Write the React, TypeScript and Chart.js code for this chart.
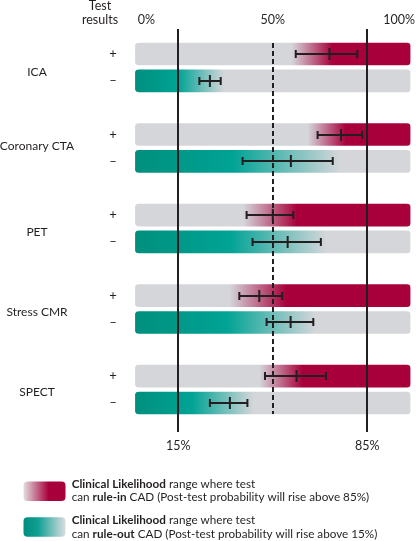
import React, { useEffect, useRef } from "react";
import { Chart, registerables } from "chart.js";

Chart.register(...registerables);

// ---- data ----
const groups = ["ICA", "Coronary CTA", "PET", "Stress CMR", "SPECT"];
const resultSigns = ["+", "–"];
// positive test result: post-test estimate and CI (%)
const posEstimate = [71, 75.3, 50, 45, 58.8];
const posLow = [58.5, 66.6, 40.3, 37.6, 47.1];
const posHigh = [81.3, 83.1, 57.6, 53.5, 69.7];
// negative test result: estimate and CI (%)
const negEstimate = [26.7, 56.7, 55.5, 56.6, 34.1];
const negLow = [22.8, 38.8, 42.5, 47.7, 26.7];
const negHigh = [30.7, 72.2, 67.8, 65, 40.6];
// rule-in gradient (gray -> red) range in clinical likelihood %
const ruleInFrom = [57, 63, 39, 34, 45];
const ruleInTo = [72, 77, 59, 55, 61];
// rule-out gradient (teal -> gray) range in clinical likelihood %
const ruleOutFrom = [15, 35, 34, 33, 20];
const ruleOutTo = [32, 75, 70, 66, 43];
const topTickValues = [0, 50, 100];
const topTickLabels = ["0%", "50%", "100%"];
const thresholdValues = [15, 85];
const thresholdLabels = ["15%", "85%"];
const midValue = 50;
const barRange = [-1, 101];

// ---- layout / style ----
const groupLabelOffset = [0.66, 0.42, 0.62, 0.6, 0.61];
const GRAY = "#d5d6da";
const RED = "#a8003b";
const TEAL_DARK = "#008f7e";
const TEAL = "#00a395";
const INK = "#231f20";
const FONT = "Lato, 'Open Sans', sans-serif";

const rowPos = (g: number, neg: number) => g * 3 + neg;

function makeFill(ctx: any) {
  const chart = ctx.chart;
  if (!chart.chartArea || !chart.scales.x) return GRAY;
  const i = ctx.dataIndex;
  const g = Math.floor(i / 2);
  const neg = i % 2 === 1;
  const xs = chart.scales.x;
  const x0 = xs.getPixelForValue(barRange[0]);
  const x1 = xs.getPixelForValue(barRange[1]);
  const grad = chart.ctx.createLinearGradient(x0, 0, x1, 0);
  const stop = (v: number) =>
    Math.min(1, Math.max(0, (v - barRange[0]) / (barRange[1] - barRange[0])));
  if (!neg) {
    grad.addColorStop(0, GRAY);
    grad.addColorStop(stop(ruleInFrom[g]), GRAY);
    grad.addColorStop(stop(ruleInTo[g]), RED);
    grad.addColorStop(1, RED);
  } else {
    grad.addColorStop(0, TEAL_DARK);
    grad.addColorStop(stop(ruleOutFrom[g]), TEAL);
    grad.addColorStop(stop(ruleOutTo[g]), GRAY);
    grad.addColorStop(1, GRAY);
  }
  return grad;
}

const overlayPlugin = {
  id: "overlay",
  afterDatasetsDraw(chart: any) {
    const { ctx, chartArea } = chart;
    const xs = chart.scales.x;
    const ys = chart.scales.y;
    ctx.save();
    // threshold lines
    ctx.strokeStyle = INK;
    ctx.lineWidth = 2;
    thresholdValues.forEach((v) => {
      const x = Math.round(xs.getPixelForValue(v));
      ctx.beginPath();
      ctx.moveTo(x, chartArea.top);
      ctx.lineTo(x, chartArea.bottom);
      ctx.stroke();
    });
    // dashed 50% line across the bar block
    const half = 11;
    const yTop = ys.getPixelForValue(rowPos(0, 0)) - half;
    const yBot = ys.getPixelForValue(rowPos(groups.length - 1, 1)) + half;
    const xm = Math.round(xs.getPixelForValue(midValue));
    ctx.setLineDash([5, 3]);
    ctx.beginPath();
    ctx.moveTo(xm, yTop);
    ctx.lineTo(xm, yBot);
    ctx.stroke();
    ctx.setLineDash([]);

    // error bars
    const drawErr = (lo: number, est: number, hi: number, yv: number) => {
      const y = Math.round(ys.getPixelForValue(yv));
      const xl = xs.getPixelForValue(lo);
      const xe = xs.getPixelForValue(est);
      const xh = xs.getPixelForValue(hi);
      ctx.beginPath();
      ctx.moveTo(xl, y);
      ctx.lineTo(xh, y);
      ctx.moveTo(xl, y - 4);
      ctx.lineTo(xl, y + 4);
      ctx.moveTo(xh, y - 4);
      ctx.lineTo(xh, y + 4);
      ctx.moveTo(xe, y - 6);
      ctx.lineTo(xe, y + 6);
      ctx.stroke();
    };
    groups.forEach((_, g) => {
      drawErr(posLow[g], posEstimate[g], posHigh[g], rowPos(g, 0));
      drawErr(negLow[g], negEstimate[g], negHigh[g], rowPos(g, 1));
    });

    // texts
    ctx.fillStyle = INK;
    ctx.textBaseline = "middle";
    ctx.font = `12.5px ${FONT}`;
    ctx.textAlign = "center";
    ctx.fillText("Test", 100, 5.5);
    ctx.fillText("results", 100, 19.5);
    topTickLabels.forEach((t, k) => {
      const x = xs.getPixelForValue(topTickValues[k]);
      if (k === 0) {
        ctx.textAlign = "left";
        ctx.fillText(t, x, 19.5);
      } else if (k === topTickLabels.length - 1) {
        ctx.textAlign = "right";
        ctx.fillText(t, chart.width - 1, 19.5);
      } else {
        ctx.textAlign = "center";
        ctx.fillText(t, x, 19.5);
      }
    });
    ctx.textAlign = "center";
    thresholdLabels.forEach((t, k) => {
      ctx.fillText(t, xs.getPixelForValue(thresholdValues[k]), 446);
    });
    groups.forEach((name, g) => {
      ctx.font = `12px ${FONT}`;
      ctx.fillText(name, 37, ys.getPixelForValue(rowPos(g, groupLabelOffset[g])));
      ctx.font = `13px ${FONT}`;
      ctx.fillText(resultSigns[0], 113, ys.getPixelForValue(rowPos(g, 0)));
      ctx.fillText(resultSigns[1], 113, ys.getPixelForValue(rowPos(g, 1)));
    });

    // legend
    const roundRect = (x: number, y: number, w: number, h: number, r: number) => {
      ctx.beginPath();
      ctx.moveTo(x + r, y);
      ctx.lineTo(x + w - r, y);
      ctx.quadraticCurveTo(x + w, y, x + w, y + r);
      ctx.lineTo(x + w, y + h - r);
      ctx.quadraticCurveTo(x + w, y + h, x + w - r, y + h);
      ctx.lineTo(x + r, y + h);
      ctx.quadraticCurveTo(x, y + h, x, y + h - r);
      ctx.lineTo(x, y + r);
      ctx.quadraticCurveTo(x, y, x + r, y);
      ctx.closePath();
    };
    const lx = 23.5, lw = 42, lh = 19.5;
    const g1 = ctx.createLinearGradient(lx, 0, lx + lw, 0);
    g1.addColorStop(0, "#e2dfe0");
    g1.addColorStop(0.6, RED);
    g1.addColorStop(1, RED);
    roundRect(lx, 481.5, lw, lh, 4);
    ctx.fillStyle = g1;
    ctx.fill();
    const g2 = ctx.createLinearGradient(lx, 0, lx + lw, 0);
    g2.addColorStop(0, TEAL_DARK);
    g2.addColorStop(0.35, "#10a093");
    g2.addColorStop(1, "#dcdde0");
    roundRect(lx, 517.3, lw, lh, 4);
    ctx.fillStyle = g2;
    ctx.fill();

    ctx.fillStyle = INK;
    ctx.textAlign = "left";
    const runs = (parts: [string, boolean][], x: number, y: number) => {
      let cx = x;
      parts.forEach(([t, b]) => {
        ctx.font = `${b ? "bold " : ""}11.7px ${FONT}`;
        ctx.fillText(t, cx, y);
        cx += ctx.measureText(t).width;
      });
    };
    const tx = 71.7;
    runs([["Clinical Likelihood", true], [" range where test", false]], tx, 484);
    runs([["can ", false], ["rule-in", true], [" CAD (Post-test probability will rise above 85%)", false]], tx, 497.5);
    runs([["Clinical Likelihood", true], [" range where test", false]], tx, 520.5);
    runs([["can ", false], ["rule-out", true], [" CAD (Post-test probability will rise above 15%)", false]], tx, 534);
    ctx.restore();
  },
};

export default function App() {
  const ref = useRef<HTMLCanvasElement | null>(null);
  useEffect(() => {
    if (!ref.current) return;
    const data: any[] = [];
    groups.forEach((_, g) => {
      data.push({ x: barRange, y: rowPos(g, 0) });
      data.push({ x: barRange, y: rowPos(g, 1) });
    });
    const chart = new Chart(ref.current, {
      type: "bar",
      data: {
        datasets: [
          {
            data,
            backgroundColor: makeFill as any,
            borderSkipped: false,
            borderRadius: 4,
            barThickness: 22,
          } as any,
        ],
      },
      plugins: [overlayPlugin],
      options: {
        indexAxis: "y",
        animation: false,
        responsive: false,
        events: [],
        layout: { padding: { left: 135.1, right: 5.5, top: 29, bottom: 109 } },
        plugins: { legend: { display: false }, tooltip: { enabled: false } },
        scales: {
          x: { type: "linear", min: barRange[0], max: barRange[1], display: false, offset: false },
          y: { type: "linear", min: -0.93, max: 14.08, reverse: true, display: false, offset: false },
        },
      } as any,
    });
    return () => chart.destroy();
  }, []);
  return (
    <div style={{ position: "absolute", left: 0, top: 0, width: 416, height: 541, background: "#fff" }}>
      <canvas ref={ref} width={416} height={541} style={{ display: "block" }} />
    </div>
  );
}
